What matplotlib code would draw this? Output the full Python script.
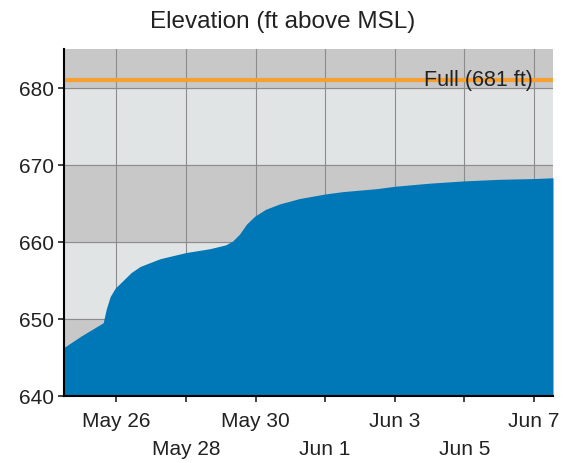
import matplotlib
matplotlib.use("Agg")
import matplotlib.pyplot as plt
import numpy as np
import pandas as pd

# elevation readings (ft above MSL)
times = [
    "2019-05-24 12:00", "2019-05-25 00:00", "2019-05-25 15:00", "2019-05-25 17:10",
    "2019-05-25 19:50", "2019-05-25 23:20", "2019-05-26 04:50", "2019-05-26 10:15",
    "2019-05-26 16:30", "2019-05-26 23:20", "2019-05-27 06:10", "2019-05-28 00:00",
    "2019-05-28 16:30", "2019-05-29 03:25", "2019-05-29 08:15", "2019-05-29 13:00",
    "2019-05-29 17:50", "2019-05-29 23:20", "2019-05-30 06:50", "2019-05-30 16:30",
    "2019-05-31 06:10", "2019-06-01 00:00", "2019-06-01 12:00", "2019-06-02 00:00",
    "2019-06-02 12:00", "2019-06-03 00:00", "2019-06-04 00:00", "2019-06-05 00:00",
    "2019-06-06 00:00", "2019-06-07 00:00", "2019-06-07 13:00",
]
elevation = [
    646.3, 647.8, 649.5, 651.3,
    652.9, 654.0, 655.0, 656.0,
    656.8, 657.3, 657.8, 658.6,
    659.1, 659.6, 660.1, 661.0,
    662.3, 663.3, 664.2, 664.9,
    665.6, 666.2, 666.5, 666.7,
    666.9, 667.2, 667.6, 667.9,
    668.1, 668.2, 668.3,
]
full_pool = 681
tick_dates = ["2019-05-26", "2019-05-28", "2019-05-30", "2019-06-01",
              "2019-06-03", "2019-06-05", "2019-06-07"]
tick_labels = ["May 26", "\nMay 28", "May 30", "\nJun 1", "Jun 3", "\nJun 5", "Jun 7"]

t = pd.to_datetime(times)
ticks = pd.to_datetime(tick_dates)

plt.rcParams["font.family"] = ["Liberation Sans", "DejaVu Sans"]

fig = plt.figure(figsize=(5.65, 4.64), dpi=100)
ax = fig.add_axes([64 / 565, 1 - 397 / 464, (553 - 64) / 565, (397 - 50) / 464])

ax.set_facecolor("#e0e4e4")
for lo in (640, 660, 680):
    ax.axhspan(lo, lo + 10, color="#c8c8c8", zorder=0)

ax.fill_between(t, elevation, 640, color="#0077b6", lw=0, zorder=3)
ax.axhline(full_pool, color="#f5a030", lw=3, zorder=4)
ax.text(pd.Timestamp("2019-06-06 23:00"), full_pool, "Full (681 ft)",
        ha="right", va="center", fontsize=15.5, color="#222222", zorder=5)

ax.set_xlim(pd.Timestamp("2019-05-24 12:00"), pd.Timestamp("2019-06-07 13:00"))
ax.set_ylim(640, 685)
ax.set_yticks([640, 650, 660, 670, 680])
ax.set_xticks(ticks)
ax.set_xticklabels(tick_labels)
ax.tick_params(labelsize=15, colors="#222222", length=4, width=1.2)
ax.tick_params(axis="x", pad=7)
for lab in ax.get_xticklabels():
    lab.set_linespacing(1.55)
ax.grid(True, color="#8c8c8c", lw=0.8, zorder=1)
ax.set_axisbelow(True)

for s in ("top", "right"):
    ax.spines[s].set_visible(False)
for s in ("left", "bottom"):
    ax.spines[s].set_linewidth(1.5)
    ax.spines[s].set_zorder(6)

# title is centred on the whole figure, not the axes
fig.text(0.5, 1 - 22 / 464, "Elevation (ft above MSL)", ha="center", va="center",
         fontsize=17.5, color="#222222")

fig.savefig("out.png", dpi=100)
